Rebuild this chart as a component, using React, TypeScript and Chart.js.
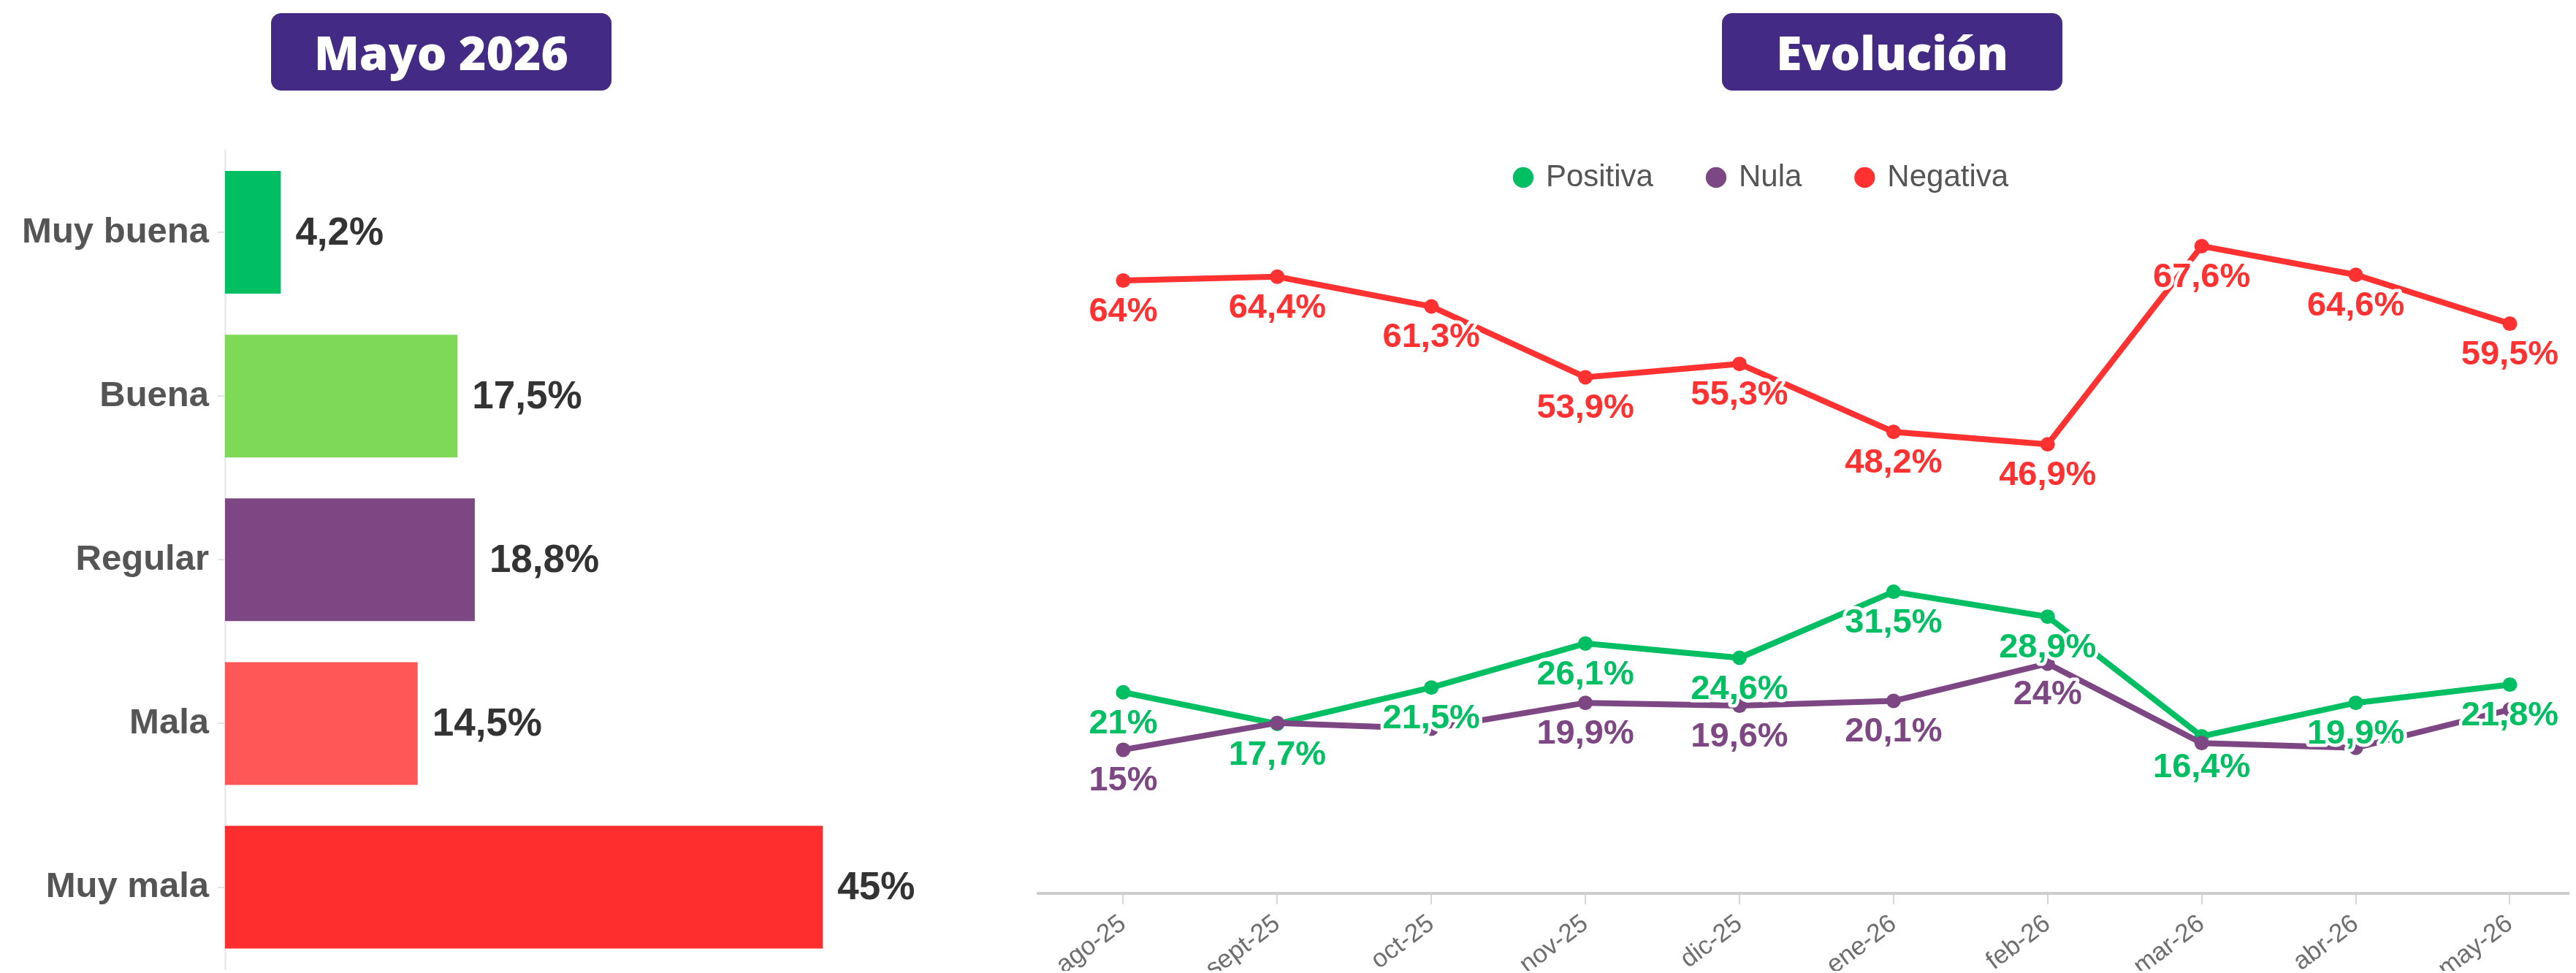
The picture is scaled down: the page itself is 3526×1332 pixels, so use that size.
import React, { useEffect, useRef } from "react";
import { Chart, registerables } from "chart.js";

Chart.register(...registerables);

// ---------- Data ----------
const barCategories = ["Muy buena", "Buena", "Regular", "Mala", "Muy mala"];
const barValues = [4.2, 17.5, 18.8, 14.5, 45];
const barColors = ["#00BF63", "#7ED957", "#7D4784", "#FF5757", "#FF2E2E"];

const months = ["ago-25", "sept-25", "oct-25", "nov-25", "dic-25", "ene-26", "feb-26", "mar-26", "abr-26", "may-26"];
const positiva = [21, 17.7, 21.5, 26.1, 24.6, 31.5, 28.9, 16.4, 19.9, 21.8];
const nula = [15, 17.8, 17.2, 19.9, 19.6, 20.1, 24, 15.7, 15.2, 19.2];
const negativa = [64, 64.4, 61.3, 53.9, 55.3, 48.2, 46.9, 67.6, 64.6, 59.5];
const nulaLabelShown = [true, false, false, true, true, true, true, false, false, false];

const seriesNames = ["Positiva", "Nula", "Negativa"];
const seriesColors = ["#00BF63", "#7D4784", "#FF3131"];

const FONT = '"Liberation Sans", Arial, sans-serif';

function fmt(v: number): string {
  return String(v).replace(".", ",") + "%";
}

const barValueLabels = {
  id: "barValueLabels",
  afterDatasetsDraw(chart: any) {
    const ctx = chart.ctx;
    const meta = chart.getDatasetMeta(0);
    ctx.save();
    ctx.font = `bold 53px ${FONT}`;
    ctx.fillStyle = "#333333";
    ctx.textAlign = "left";
    ctx.textBaseline = "middle";
    meta.data.forEach((bar: any, i: number) => {
      ctx.fillText(fmt(barValues[i]), bar.x + 20, bar.y + 2);
    });
    ctx.restore();
  },
};

const linePointLabels = {
  id: "linePointLabels",
  afterDatasetsDraw(chart: any) {
    const ctx = chart.ctx;
    ctx.save();
    ctx.font = `bold 47px ${FONT}`;
    ctx.textAlign = "center";
    ctx.textBaseline = "middle";
    ctx.lineJoin = "round";
    ctx.lineWidth = 9;
    ctx.strokeStyle = "#ffffff";
    const drawOrder = [2, 0, 1];
    drawOrder.forEach((di) => {
      const meta = chart.getDatasetMeta(di);
      const ds = chart.data.datasets[di];
      meta.data.forEach((pt: any, i: number) => {
        if (di === 1 && !nulaLabelShown[i]) return;
        const txt = fmt(ds.data[i].y);
        const y = pt.y + 43;
        ctx.strokeText(txt, pt.x, y);
        ctx.fillStyle = ds.borderColor;
        ctx.fillText(txt, pt.x, y);
      });
    });
    ctx.restore();
  },
};

function BarPanel() {
  const ref = useRef<HTMLCanvasElement | null>(null);
  useEffect(() => {
    if (!ref.current) return;
    const chart = new Chart(ref.current, {
      type: "bar",
      data: {
        labels: barCategories,
        datasets: [
          {
            data: barValues,
            backgroundColor: barColors,
            borderWidth: 0,
            categoryPercentage: 1,
            barPercentage: 0.75,
          },
        ],
      },
      options: {
        indexAxis: "y",
        responsive: false,
        animation: false,
        devicePixelRatio: 1,
        layout: { padding: { top: 76, bottom: 0, left: 0, right: 0 } },
        plugins: { legend: { display: false }, tooltip: { enabled: false } },
        scales: {
          x: { display: false, min: 0, max: 54 },
          y: {
            afterFit: (s: any) => {
              s.width = 308;
            },
            ticks: {
              font: { family: FONT, size: 49, weight: "bold" },
              color: "#555555",
              padding: 12,
            },
            grid: {
              offset: false,
              drawOnChartArea: false,
              drawTicks: true,
              tickLength: 10,
              color: "#e2e2e2",
              lineWidth: 2,
            },
            border: { display: true, color: "#ececec", width: 3 },
          },
        },
      },
      plugins: [barValueLabels],
    } as any);
    return () => chart.destroy();
  }, []);
  return <canvas ref={ref} width={1290} height={1238} style={{ position: "absolute", left: 0, top: 130, width: 1290, height: 1238 }} />;
}

function LinePanel() {
  const ref = useRef<HTMLCanvasElement | null>(null);
  useEffect(() => {
    if (!ref.current) return;
    const series = [positiva, nula, negativa];
    const chart = new Chart(ref.current, {
      type: "line",
      data: {
        datasets: series.map((vals, si) => ({
          label: seriesNames[si],
          data: vals.map((v, i) => ({ x: i, y: v })),
          borderColor: seriesColors[si],
          backgroundColor: seriesColors[si],
          pointBackgroundColor: seriesColors[si],
          pointBorderWidth: 0,
          pointRadius: 10,
          borderWidth: 8,
          tension: 0,
          order: si === 1 ? 0 : si === 0 ? 1 : 2,
        })),
      },
      options: {
        responsive: false,
        animation: false,
        devicePixelRatio: 1,
        layout: { padding: { top: 16, bottom: 3, left: 0, right: 0 } },
        plugins: {
          tooltip: { enabled: false },
          legend: {
            position: "top",
            align: "center",
            labels: {
              usePointStyle: true,
              pointStyle: "circle",
              boxWidth: 20,
              boxHeight: 20,
              padding: 76,
              color: "#555555",
              font: { family: FONT, size: 42 },
              sort: (a: any, b: any) => a.datasetIndex - b.datasetIndex,
            },
          },
        },
        scales: {
          x: {
            type: "linear",
            min: -0.552,
            max: 9.382,
            afterFit: (s: any) => {
              s.height = 106;
            },
            ticks: {
              stepSize: 1,
              includeBounds: false,
              autoSkip: false,
              minRotation: 37,
              maxRotation: 37,
              padding: 6,
              color: "#6e6e6e",
              font: { family: FONT, size: 35 },
              callback: (v: any) => (months[v] !== undefined ? months[v] : ""),
            },
            grid: {
              drawOnChartArea: false,
              drawTicks: true,
              tickLength: 15,
              color: "#d6d6d6",
              lineWidth: 2,
            },
            border: { display: true, color: "#cdcdcd", width: 4 },
          },
          y: {
            display: true,
            min: 0,
            max: 72.4,
            afterFit: (s: any) => {
              s.width = 123;
            },
            ticks: { display: false },
            grid: { display: false },
            border: { display: false },
          },
        },
      },
      plugins: [linePointLabels],
    } as any);
    return () => chart.destroy();
  }, []);
  return <canvas ref={ref} width={2228} height={1202} style={{ position: "absolute", left: 1298, top: 130, width: 2228, height: 1202 }} />;
}

function TitleBox({ text, left }: { text: string; left: number }) {
  return (
    <div
      style={{
        position: "absolute",
        left,
        top: 18,
        width: 466,
        height: 106,
        background: "#432A84",
        borderRadius: 14,
        display: "flex",
        alignItems: "center",
        justifyContent: "center",
        color: "#ffffff",
        fontFamily: '"Open Sans", sans-serif',
        fontWeight: 800,
        fontSize: 64,
        letterSpacing: 0,
      }}
    >
      {text}
    </div>
  );
}

export default function App() {
  return (
    <div style={{ position: "absolute", left: 0, top: 0, width: 3526, height: 1332, background: "#ffffff", overflow: "hidden" }}>
      <TitleBox text="Mayo 2026" left={371} />
      <TitleBox text="Evolución" left={2357} />
      <BarPanel />
      <LinePanel />
    </div>
  );
}
